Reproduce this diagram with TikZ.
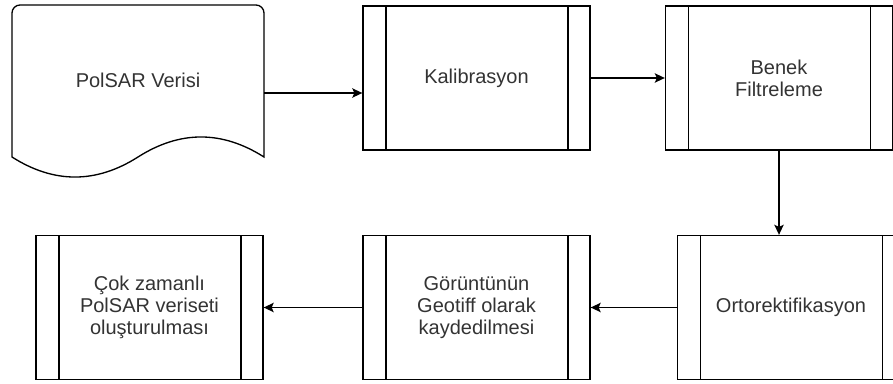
\documentclass[tikz,border=0pt]{standalone}
\usepackage{fontspec}
\setmainfont{Liberation Sans}
\usetikzlibrary{arrows.meta}

\definecolor{textgray}{HTML}{333333}

\tikzset{
    process/.style={draw, line width=1pt, minimum width=170.25pt, minimum height=108pt,
        inner sep=0pt, align=center, text=textgray,
        font=\fontsize{15pt}{16.5pt}\selectfont,
        path picture={
            \draw [line width=1pt] ([xshift=17.25pt]path picture bounding box.north west)
                -- ([xshift=17.25pt]path picture bounding box.south west);
            \draw [line width=1pt] ([xshift=-16.5pt]path picture bounding box.north east)
                -- ([xshift=-16.5pt]path picture bounding box.south east);
        }},
    arrow/.style={line width=1pt, -{Stealth[length=7.5pt, width=7pt, inset=1.5pt]}}
}

\begin{document}
\begin{tikzpicture}[x=0.75pt, y=-0.75pt]
            \useasboundingbox (0,0) rectangle (893,383);

            % input document
            \draw [line width=1pt] (12,157) [rounded corners=6pt] -- (12,5) -- (264,5) [sharp corners] -- (264,157)
                .. controls (222,130.3) and (180,130.3) .. (138,157)
                .. controls (96,183.7) and (54,183.7) .. (12,157) -- cycle;
            \node [minimum width=189pt, minimum height=132pt, inner sep=0pt] (doc) at (138,93) {};
            \node [text=textgray, font=\fontsize{15pt}{16.5pt}\selectfont] (doctext) at (138,80) {PolSAR Verisi};

            % processing steps
            \node [process] (kal) at (476.5,78) {Kalibrasyon};
            \node [process] (benek) at (779,78) {Benek\\Filtreleme};
            \node [process] (orto) at (791,307.5) {Ortorektifikasyon};
            \node [process] (goruntu) at (476.5,307.5) {Görüntünün\\Geotiff olarak\\kaydedilmesi};
            \node [process] (cok) at (149.5,307.5) {Çok zamanlı\\PolSAR veriseti\\oluşturulması};

            \draw [arrow] (doc.east) -- (kal.west |- doc.east);
            \draw [arrow] (kal) -- (benek);
            \draw [arrow] (benek.south) -- (benek.south |- orto.north);
            \draw [arrow] (orto) -- (goruntu);
            \draw [arrow] (goruntu) -- (cok);
        \end{tikzpicture}
\end{document}
